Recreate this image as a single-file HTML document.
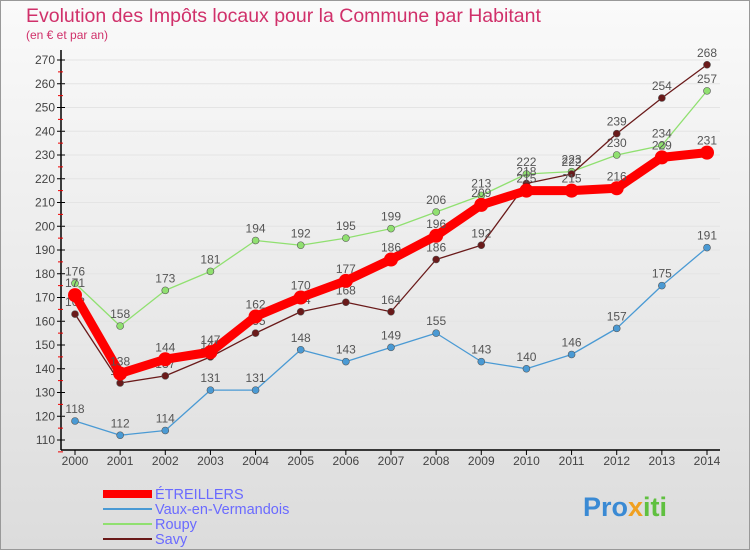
<!DOCTYPE html>
<html><head><meta charset="utf-8"><style>
body{margin:0;width:750px;height:550px;overflow:hidden;font-family:"Liberation Sans",sans-serif;}
</style></head><body>
<svg width="750" height="550" xmlns="http://www.w3.org/2000/svg">
<defs><linearGradient id="bg" x1="0" y1="0" x2="0" y2="1"><stop offset="0" stop-color="#fafafa"/><stop offset="1" stop-color="#dcdcdc"/></linearGradient></defs>
<rect x="0.5" y="0.5" width="749" height="549" fill="url(#bg)" stroke="#999"/>
<text x="26" y="22" font-size="19.5" fill="#d0306a">Evolution des Impôts locaux pour la Commune par Habitant</text>
<text x="26" y="39" font-size="12" fill="#d0306a">(en € et par an)</text>
<g id="axes"></g>
<g id="series"></g>
<g id="legend" font-size="14.5">
<line x1="103" y1="494" x2="152" y2="494" stroke="#f00" stroke-width="8"/>
<text x="155" y="499" fill="#6a6aff">ÉTREILLERS</text>
<line x1="103" y1="509" x2="152" y2="509" stroke="#4a9ad4" stroke-width="2"/>
<text x="155" y="514" fill="#6a6aff">Vaux-en-Vermandois</text>
<line x1="103" y1="524" x2="152" y2="524" stroke="#90e070" stroke-width="2"/>
<text x="155" y="529" fill="#6a6aff">Roupy</text>
<line x1="103" y1="539" x2="152" y2="539" stroke="#6a1a1a" stroke-width="2"/>
<text x="155" y="544" fill="#6a6aff">Savy</text>
</g>
<text x="583" y="516" font-size="27" font-weight="bold" fill="#3a8ad4">Pro<tspan fill="#f0a020">x</tspan><tspan fill="#60c040">iti</tspan></text>
</svg>
<script>
const years=[2000,2001,2002,2003,2004,2005,2006,2007,2008,2009,2010,2011,2012,2013,2014];
const etreillers=[171,138,144,147,162,170,177,186,196,209,215,215,216,229,231];
const vaux=[118,112,114,131,131,148,143,149,155,143,140,146,157,175,191];
const roupy=[176,158,173,181,194,192,195,199,206,213,222,223,230,234,257];
const savy=[163,134,137,145,155,164,168,164,186,192,218,222,239,254,268];
const yTicks=[110,120,130,140,150,160,170,180,190,200,210,220,230,240,250,260,270];
const NS="http://www.w3.org/2000/svg";
function x(i){return 75+i*(707-75)/(years.length-1);}
function y(v){return 440-(v-110)*(380/160);}
function mk(t,a,p){const e=document.createElementNS(NS,t);for(const k in a)e.setAttribute(k,a[k]);p.appendChild(e);return e;}
const ax=document.getElementById('axes');
const yl=mk('line',{x1:61,y1:50,x2:61,y2:450,stroke:'#000','stroke-width':1.5},ax);


const xl=mk('line',{x1:61,y1:450,x2:720,y2:450,stroke:'#000','stroke-width':1.5},ax);


yTicks.forEach(v=>{
 const g=mk('line',{x1:61,y1:y(v),x2:720,y2:y(v),stroke:'#e4e4e4','stroke-width':1},ax);
 
 
 mk('line',{x1:57,y1:y(v),x2:65,y2:y(v),stroke:'#000'},ax);
 mk('line',{x1:58,y1:y(v)+11.875,x2:63,y2:y(v)+11.875,stroke:'#e00'},ax);
 const t=mk('text',{x:55,y:y(v)+4,'font-size':12,'text-anchor':'end',fill:'#444'},ax);
 t.textContent=v;
 
 
});
years.forEach((yr,i)=>{
 mk('line',{x1:x(i),y1:450,x2:x(i),y2:455,stroke:'#000'},ax);
 const t=mk('text',{x:x(i),y:465,'font-size':12,'text-anchor':'middle',fill:'#444'},ax);
 t.textContent=yr;
 
 
});
const sg=document.getElementById('series');
function draw(name,data,color,w,r){
 const g=mk('g',{},sg);
 
 
 const p=mk('polyline',{points:data.map((v,i)=>x(i)+','+y(v)).join(' '),fill:'none',stroke:color,'stroke-width':w,'stroke-linejoin':'round'},g);
 
 
 data.forEach((v,i)=>{
  const c=mk('circle',{cx:x(i),cy:y(v),r:r,fill:color,stroke:'#555','stroke-width':r>5?0:0.6},g);
  
  
  const t=mk('text',{x:x(i),y:y(v)-8,'font-size':12,'text-anchor':'middle',fill:'#555'},g);
  t.textContent=v;
  
  
 });
}
draw('vaux',vaux,'#4a9ad4',1.3,3.5);
draw('roupy',roupy,'#90e070',1.3,3.5);
draw('savy',savy,'#6a1a1a',1.3,3.5);
draw('etreillers',etreillers,'#f00',9,7);
</script>
</body></html>
